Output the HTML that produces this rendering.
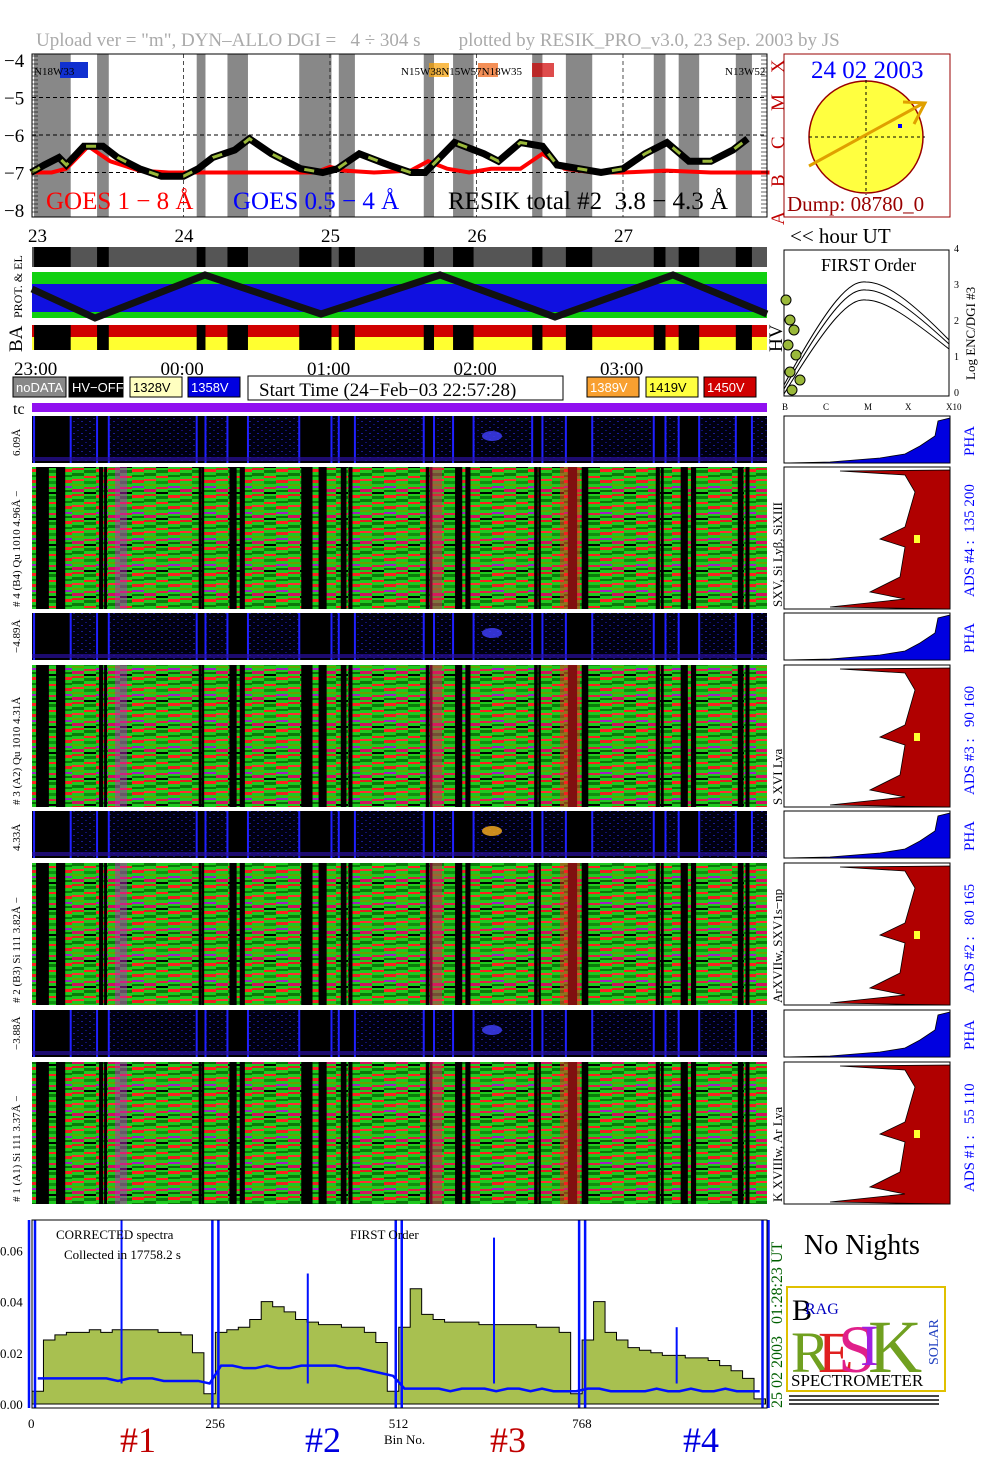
<!DOCTYPE html>
<html><head><meta charset="utf-8">
<style>
html,body{margin:0;padding:0;background:#fff;}
svg{display:block;font-family:"Liberation Serif",serif;}
text{white-space:pre;}
</style></head>
<body>
<svg id="root" width="1004" height="1477" viewBox="0 0 1004 1477" xmlns="http://www.w3.org/2000/svg">
<defs>
<pattern id="hm" width="36" height="26" patternUnits="userSpaceOnUse">
<rect width="36" height="26" fill="#1fc81f"/>
<rect x="0" y="0" width="12" height="2" fill="#e02020"/><rect x="0" y="5" width="12" height="3" fill="#0a7a0a"/><rect x="0" y="11" width="12" height="2" fill="#ff3030"/><rect x="0" y="16" width="12" height="2" fill="#6aa000"/><rect x="0" y="21" width="12" height="3" fill="#d01060"/>
<rect x="12" y="2" width="12" height="3" fill="#0a7a0a"/><rect x="12" y="8" width="12" height="2" fill="#ff2020"/><rect x="12" y="13" width="12" height="3" fill="#109010"/><rect x="12" y="19" width="12" height="2" fill="#e02040"/><rect x="12" y="24" width="12" height="2" fill="#000"/>
<rect x="24" y="1" width="12" height="3" fill="#ff2020"/><rect x="24" y="7" width="12" height="2" fill="#0a7a0a"/><rect x="24" y="12" width="12" height="3" fill="#ee2020"/><rect x="24" y="18" width="12" height="2" fill="#a020c0"/><rect x="24" y="22" width="12" height="2" fill="#0a6a0a"/>
</pattern>
<pattern id="pha" width="8" height="6" patternUnits="userSpaceOnUse">
<rect width="8" height="6" fill="#000010"/><rect x="1" y="1" width="2" height="1" fill="#1a1a90"/><rect x="5" y="4" width="2" height="1" fill="#101070"/>
</pattern>
</defs>
</svg>
<script>
const hourTicks = ["23","24","25","26","27"];
const timeLabels = ["23:00","00:00","01:00","02:00","03:00"];
const yTicksTop = [-4,-5,-6,-7,-8];
const bandStart = [22.98,23.41,24.09,24.30,24.79,25.06,25.64,25.84,26.38,26.61,27.21,27.38,27.77];
const bandEnd   = [23.23,23.49,24.15,24.44,25.01,25.17,25.71,25.98,26.45,26.79,27.29,27.52,27.88];
const goesT = [22.96,23.1,23.2,23.35,23.5,23.7,23.9,24.2,24.6,24.9,25.0,25.1,25.3,25.55,25.67,25.8,25.95,26.1,26.3,26.45,26.6,26.8,27.0,27.3,27.6,27.9,28.0];
const goesV = [-7.0,-7.0,-6.9,-6.3,-6.7,-6.95,-7.0,-7.0,-7.0,-7.0,-6.85,-6.95,-7.0,-6.95,-6.7,-6.9,-7.0,-6.9,-6.9,-6.5,-6.9,-7.0,-7.0,-6.95,-7.0,-7.0,-7.0];
const resT = [22.96,23.05,23.15,23.2,23.32,23.45,23.55,23.7,23.85,24.0,24.1,24.2,24.35,24.45,24.6,24.8,24.95,25.05,25.2,25.4,25.55,25.65,25.75,25.85,26.05,26.15,26.3,26.45,26.55,26.7,26.85,27.0,27.15,27.3,27.45,27.6,27.75,27.85];
const resV = [-7.0,-6.8,-6.6,-6.8,-6.3,-6.3,-6.6,-6.9,-7.1,-7.1,-6.9,-6.6,-6.4,-6.1,-6.5,-6.9,-7.0,-6.9,-6.5,-6.8,-7.0,-7.0,-6.6,-6.2,-6.5,-6.7,-6.2,-6.3,-6.8,-6.9,-7.0,-6.9,-6.5,-6.2,-6.7,-6.7,-6.4,-6.1];
const specGreen = [0.005,0.025,0.027,0.028,0.028,0.029,0.028,0.029,0.029,0.029,0.029,0.028,0.028,0.027,0.020,0.004,
 0.028,0.029,0.030,0.033,0.040,0.038,0.036,0.033,0.032,0.031,0.031,0.030,0.030,0.028,0.024,0.005,
 0.030,0.045,0.035,0.033,0.032,0.032,0.032,0.031,0.031,0.031,0.031,0.031,0.030,0.030,0.028,0.004,
 0.025,0.040,0.028,0.025,0.022,0.021,0.020,0.019,0.019,0.018,0.018,0.017,0.015,0.013,0.010,0.002];
const specBlue = [0.010,0.010,0.010,0.010,0.010,0.010,0.010,0.009,0.010,0.010,0.010,0.009,0.009,0.009,0.009,0.008,
 0.015,0.015,0.014,0.014,0.015,0.014,0.014,0.015,0.015,0.015,0.015,0.014,0.014,0.013,0.012,0.011,
 0.006,0.006,0.006,0.006,0.005,0.006,0.006,0.006,0.005,0.006,0.006,0.005,0.006,0.005,0.005,0.005,
 0.006,0.006,0.005,0.005,0.005,0.005,0.006,0.005,0.005,0.006,0.005,0.005,0.006,0.005,0.005,0.005];
const spikeBin = [125,385,645,900];
const spikeVal = [0.075,0.051,0.065,0.030];
const binTicks = [0,256,512,768];

const NS="http://www.w3.org/2000/svg", root=document.getElementById('root');
function el(tag,attrs,parent){const e=document.createElementNS(NS,tag);for(const k in attrs)e.setAttribute(k,attrs[k]);(parent||root).appendChild(e);return e;}
function txt(x,y,s,size,fill,extra){const e=el('text',Object.assign({x:x,y:y,'font-size':size,fill:fill||'#000'},extra||{}));e.textContent=s;return e;}
const hx = h => 37 + (h-23)*146.5;
const ly = v => 60 + (-4 - v)*37.5;
const bx = b => 32 + b*0.7163;
const sy = v => 1404 - v*2560;

let t=txt(36,46,'Upload ver = "m", DYN\u2013ALLO DGI =   4 \u00f7 304 s        plotted by RESIK_PRO_v3.0, 23 Sep. 2003 by JS',19,'#aaa');



const topG=el('g',{});


for(let i=0;i<bandStart.length;i++){
 const r=el('rect',{x:hx(bandStart[i]),y:54,width:hx(bandEnd[i])-hx(bandStart[i]),height:163,fill:'#888'},topG);
 
 
}
[-5,-6,-7].forEach(v=>el('line',{x1:32,x2:767,y1:ly(v),y2:ly(v),stroke:'#000','stroke-dasharray':'4,3'},topG));
for(let i=1;i<5;i++) el('line',{x1:hx(23+i),x2:hx(23+i),y1:54,y2:217,stroke:'#000','stroke-dasharray':'4,3','stroke-width':0.7},topG);
let d='';goesT.forEach((h,i)=>d+=(i?'L':'M')+hx(h)+','+ly(goesV[i]));
let p=el('path',{d:d,fill:'none',stroke:'#f00','stroke-width':4},topG);


d='';resT.forEach((h,i)=>d+=(i?'L':'M')+hx(h)+','+ly(resV[i]));
p=el('path',{d:d,fill:'none',stroke:'#000','stroke-width':7},topG);


p=el('path',{d:d,fill:'none',stroke:'#9ab83a','stroke-width':3,'stroke-dasharray':'10,25'},topG);
el('rect',{x:32,y:54,width:735,height:163,fill:'none',stroke:'#000'},topG);
yTicksTop.forEach(v=>{const tt=txt(4,ly(v)+7,'\u2212'+(-v),19,'#000',{});});
for(let y=56;y<216;y+=4) el('line',{x1:32,x2:38,y1:y,y2:y,stroke:'#000','stroke-width':0.6},topG);
for(let y=56;y<216;y+=4) el('line',{x1:761,x2:767,y1:y,y2:y,stroke:'#000','stroke-width':0.6},topG);
txt(46,209,'GOES 1 \u2212 8 \u00c5',25,'#f00');
txt(233,209,'GOES 0.5 \u2212 4 \u00c5',25,'#00f');
txt(448,209,'RESIK total #2  3.8 \u2212 4.3 \u00c5',25,'#000');
txt(34,75,'N18W33',11,'#000');el('rect',{x:60,y:62,width:28,height:16,fill:'#1030d0'},topG);
txt(401,75,'N15W38N15W57N18W35',11,'#000');
el('rect',{x:429,y:63,width:20,height:14,fill:'#f8a000','opacity':0.7},topG);
el('rect',{x:478,y:63,width:20,height:14,fill:'#f06010','opacity':0.7},topG);
el('rect',{x:532,y:63,width:22,height:14,fill:'#d00000','opacity':0.7},topG);
txt(725,75,'N13W52',11,'#000');
['X','M','C','B','A'].forEach((s,i)=>txt(765,62+i*38,s,19,'#c00000',{transform:`rotate(-90 ${780} ${58+i*38})`}));

const sun=el('g',{});


el('rect',{x:784,y:54,width:166,height:163,fill:'#fff',stroke:'#900'},sun);
el('ellipse',{cx:866,cy:137,rx:57,ry:56,fill:'#ffff40',stroke:'#900','stroke-width':1.5},sun);
el('line',{x1:809,x2:925,y1:137,y2:137,stroke:'#000','stroke-dasharray':'3,3'},sun);
el('line',{x1:866,x2:866,y1:80,y2:195,stroke:'#000','stroke-dasharray':'3,3'},sun);
el('path',{d:'M809,166 L922,104 M903,102 L925,103 L914,124',stroke:'#e0a000','stroke-width':3,fill:'none'},sun);
el('rect',{x:898,y:124,width:4,height:4,fill:'#00f'},sun);
txt(811,78,'24 02 2003',25,'#00f');
txt(787,211,'Dump: 08780_0',21,'#900');

hourTicks.forEach((s,i)=>{const tt=txt(28+i*146.5,242,s,19,'#000');});
txt(790,243,'<< hour UT',21,'#000');

const gs=el('rect',{x:32,y:247,width:735,height:20,fill:'#555'});


for(let i=0;i<bandStart.length;i++) el('rect',{x:hx(bandStart[i]),y:247,width:hx(bandEnd[i])-hx(bandStart[i]),height:20,fill:'#000'});
txt(22,318,'PROT. & EL',12,'#000',{transform:'rotate(-90 22 318)'});
const pr=el('g',{});


el('rect',{x:32,y:272,width:735,height:46,fill:'#1010e0'},pr);
el('rect',{x:32,y:272,width:735,height:12,fill:'#10d010'},pr);
el('rect',{x:32,y:312,width:735,height:6,fill:'#10d010'},pr);
el('path',{d:`M32,289 L95,318 L205,275 L321,314 L440,275 L555,317 L673,275 L767,314`,stroke:'#111','stroke-width':7,fill:'none'},pr);
txt(22,352,'BA',19,'#000',{transform:'rotate(-90 22 352)'});
const ba=el('g',{});


el('rect',{x:32,y:325,width:735,height:12,fill:'#d00000'},ba);
el('rect',{x:32,y:337,width:735,height:13,fill:'#ffff30'},ba);
for(let i=0;i<bandStart.length;i++) el('rect',{x:hx(bandStart[i]),y:325,width:hx(bandEnd[i])-hx(bandStart[i]),height:25,fill:'#000'},ba);
txt(782,352,'HV',19,'#000',{transform:'rotate(-90 782 352)'});

const fo=el('g',{});


el('rect',{x:784,y:250,width:165,height:146,fill:'#fff',stroke:'#000'},fo);
txt(821,271,'FIRST Order',18,'#000');
[0,8,18].forEach(o=>el('path',{d:`M784,${385+o/2} C830,${300+o} 850,${280+o} 866,${282+o} C885,${282+o} 910,${300+o} 949,${340+o/2}`,fill:'none',stroke:'#000','stroke-width':1},fo));
[[790,320],[794,330],[788,345],[796,355],[790,372],[800,380],[792,390],[786,300]].forEach(c=>el('circle',{cx:c[0],cy:c[1],r:5,fill:'#9ab83a',stroke:'#000'},fo));
['B','C','M','X','X10'].forEach((s,i)=>txt(782+i*41,410,s,9,'#000'));
['0','1','2','3','4'].forEach((s,i)=>txt(954,396-i*36,s,10,'#000'));
txt(975,380,'Log ENC/DGI #3',13,'#000',{transform:'rotate(-90 975 380)'});

timeLabels.forEach((s,i)=>{const tt=txt(14+i*146.5,375,s,19,'#000');});
const legends=[[13,'noDATA','#888','#fff',53],[69,'HV\u2212OFF','#000','#fff',54],[130,'1328V','#ffffc0','#000',52],[188,'1358V','#0000e0','#fff',52],[587,'1389V','#f8a030','#fff',52],[646,'1419V','#ffff40','#000',52],[704,'1450V','#d00000','#fff',52]];
legends.forEach(l=>{const g=el('g',{});el('rect',{x:l[0],y:377,width:l[4],height:20,fill:l[2],stroke:'#000'},g);const lt=txt(l[0]+3,392,l[1],13,l[3]);lt.setAttribute('font-family','Liberation Sans');});
el('rect',{x:248,y:376,width:315,height:24,fill:'#fff',stroke:'#000'});
txt(259,396,'Start Time (24\u2212Feb\u221203 22:57:28)',19,'#000');
txt(13,414,'tc',16,'#000');
el('rect',{x:32,y:403,width:735,height:9,fill:'#9010f0'});

const panels=[
 {pha:416,hm:467,lab1:'6.09\u00c5',lab2:'# 4 (B4) Qu 1010 4.96\u00c5 \u2212',lab3:'SXV, Si Ly\u03b2, SiXIII',ads:'ADS #4 :  135 200',n:4},
 {pha:613,hm:665,lab1:'\u22124.89\u00c5',lab2:'# 3 (A2) Qu 1010 4.31\u00c5',lab3:'S XVI Lya',ads:'ADS #3 :   90 160',n:3},
 {pha:811,hm:863,lab1:'4.33\u00c5',lab2:'# 2 (B3) Si 111 3.82\u00c5 \u2212',lab3:'ArXVIIw, SXV1s\u2212np',ads:'ADS #2 :   80 165',n:2},
 {pha:1010,hm:1062,lab1:'\u22123.88\u00c5',lab2:'# 1 (A1) Si 111 3.37\u00c5 \u2212',lab3:'K XVIIIw, Ar Lya',ads:'ADS #1 :   55 110',n:1}];
panels.forEach(P=>{
 const g=el('g',{});
 
 
 el('rect',{x:32,y:P.pha,width:735,height:47,fill:'url(#pha)'},g);
 el('rect',{x:32,y:P.hm,width:735,height:142,fill:'url(#hm)'},g);
 for(let i=0;i<bandStart.length;i++){
  const x0=hx(bandStart[i]),w=hx(bandEnd[i])-x0;
  el('rect',{x:x0,y:P.pha,width:w,height:47,fill:'#000'},g);
  el('rect',{x:x0-1,y:P.pha,width:2,height:47,fill:'#2020ff'},g);
  el('rect',{x:x0+w-1,y:P.pha,width:2,height:47,fill:'#2020ff'},g);
  el('rect',{x:x0+2,y:P.hm,width:Math.max(3,w*0.35),height:142,fill:'#000'},g);
  el('rect',{x:x0+w*0.6,y:P.hm,width:Math.max(2,w*0.25),height:142,fill:'#000'},g);
 }
 el('rect',{x:32,y:P.pha+41,width:735,height:4,fill:'#2a10a0',opacity:0.7},g);
 el('rect',{x:115,y:P.hm,width:12,height:142,fill:'#c020c0',opacity:0.5},g);
 el('rect',{x:430,y:P.hm,width:12,height:142,fill:'#e02060',opacity:0.5},g);
 el('rect',{x:560,y:P.hm,width:20,height:142,fill:'#ff2020',opacity:0.5},g);
 el('ellipse',{cx:492,cy:P.pha+20,rx:10,ry:5,fill:P.n==2?'#ffb020':'#4040ff',opacity:0.8},g);
 txt(20,P.pha+40,P.lab1,11,'#000',{transform:`rotate(-90 20 ${P.pha+40})`});
 txt(20,P.hm+140,P.lab2,11,'#000',{transform:`rotate(-90 20 ${P.hm+140})`});
 el('rect',{x:784,y:P.pha,width:166,height:47,fill:'#fff',stroke:'#000'},g);
 el('path',{d:`M784,${P.pha+47} L830,${P.pha+46} L880,${P.pha+42} L905,${P.pha+38} L920,${P.pha+30} L935,${P.pha+20} L938,${P.pha+5} L950,${P.pha+2} L950,${P.pha+47} Z`,fill:'#0000e0',stroke:'#000','stroke-width':0.8},g);
 el('rect',{x:784,y:P.hm,width:166,height:142,fill:'#fff',stroke:'#000'},g);
 el('path',{d:`M950,${P.hm+3} L840,${P.hm+4} L905,${P.hm+8} L915,${P.hm+25} L905,${P.hm+60} L880,${P.hm+72} L905,${P.hm+80} L900,${P.hm+110} L870,${P.hm+125} L905,${P.hm+132} L830,${P.hm+140} L950,${P.hm+142} Z`,fill:'#b00000',stroke:'#000','stroke-width':0.8},g);
 el('rect',{x:914,y:P.hm+68,width:6,height:8,fill:'#ffff30'},g);
 txt(782,P.hm+140,P.lab3,13,'#000',{transform:`rotate(-90 782 ${P.hm+140})`});
 txt(974,P.pha+40,'PHA',15,'#00f',{transform:`rotate(-90 974 ${P.pha+40})`});
 txt(974,P.hm+130,P.ads,15,'#00f',{transform:`rotate(-90 974 ${P.hm+130})`});
});

const sp=el('g',{});


function stepPath(arr){let s='M'+bx(0)+','+sy(0);arr.forEach((v,i)=>{s+='L'+bx(i*16)+','+sy(v)+'L'+bx(i*16+16)+','+sy(v);});return s+'L'+bx(1024)+','+sy(0)+'Z';}
p=el('path',{d:stepPath(specGreen),fill:'#a8c050',stroke:'#000','stroke-width':1},sp);


let db='';specBlue.forEach((v,i)=>db+=(i?'L':'M')+bx(i*16+8)+','+sy(v));
p=el('path',{d:db,fill:'none',stroke:'#0010ff','stroke-width':2.5},sp);


spikeBin.forEach((b,i)=>{const l=el('line',{x1:bx(b),x2:bx(b),y1:sy(0.008),y2:Math.max(1220,sy(spikeVal[i])),stroke:'#0010ff','stroke-width':2},sp);});
[0,256,512,768,1024].forEach(b=>{el('line',{x1:bx(b)+3,x2:bx(b)+3,y1:1220,y2:1408,stroke:'#0010ff','stroke-width':2.5},sp);el('line',{x1:bx(b)-3,x2:bx(b)-3,y1:1220,y2:1408,stroke:'#0010ff','stroke-width':2.5},sp);});
el('rect',{x:32,y:1220,width:735,height:188,fill:'none',stroke:'#000'},sp);
[0,0.02,0.04,0.06].forEach(v=>{const tt=txt(0,sy(v)+5,v.toFixed(2),13,'#000');});
binTicks.forEach(b=>{const tt=txt(bx(b)-(b?10:4),1428,String(b),13,'#000');});
txt(56,1239,'CORRECTED spectra',13,'#000');
txt(64,1259,'Collected in 17758.2 s',13,'#000');
txt(350,1239,'FIRST Order',13,'#000');
txt(384,1444,'Bin No.',13,'#000');
[['#1','#c00000',120],['#2','#0000e0',305],['#3','#c00000',490],['#4','#0000e0',683]].forEach(a=>txt(a[2],1452,a[0],36,a[1]));
txt(782,1408,'25 02 2003   01:28:23 UT',16,'#006000',{transform:'rotate(-90 782 1408)'});
txt(804,1254,'No Nights',28,'#000');
const lg=el('g',{});


el('rect',{x:787,y:1287,width:158,height:104,fill:'#fff',stroke:'#e0c000','stroke-width':2},lg);
txt(792,1320,'B',30,'#000');txt(805,1314,'RAG',16,'#0000c0');
txt(791,1372,'R',58,'#70a020');txt(818,1372,'E',58,'#e02020');txt(838,1372,'S',68,'#e0208a');txt(860,1365,'I',58,'#a020e0');txt(868,1372,'K',75,'#70a020');
txt(938,1365,'SOLAR',14,'#2040c0',{transform:'rotate(-90 938 1365)'});
txt(791,1386,'SPECTROMETER',17,'#000');
el('rect',{x:787,y:1394,width:158,height:12,fill:'#fff'},lg);
for(let i=0;i<3;i++) el('rect',{x:789,y:1395+i*4,width:150,height:2,fill:'#444'},lg);
</script>
</body></html>
